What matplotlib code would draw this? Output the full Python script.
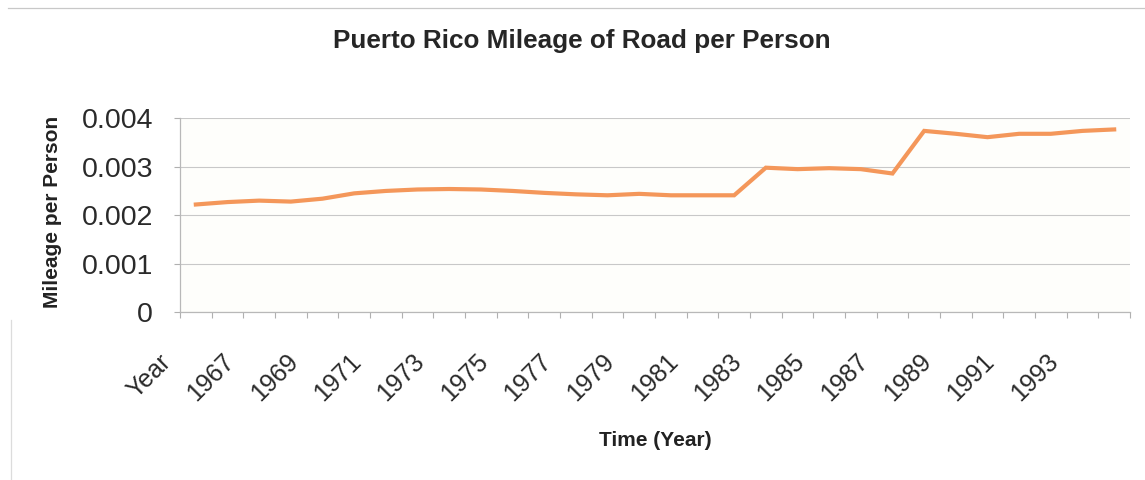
import matplotlib
matplotlib.use("Agg")
import matplotlib.pyplot as plt
from matplotlib.transforms import ScaledTranslation
from matplotlib.lines import Line2D

plt.rcParams['font.family'] = ['Liberation Sans', 'DejaVu Sans']

# Categories as they appear in the worksheet column (header row included)
categories = ["Year"] + [str(y) for y in range(1966, 1995)]

# Road mileage per person, one value per category
mileage_per_person = [
    0.00222, 0.00227, 0.00230, 0.00228, 0.00234, 0.00245, 0.00250, 0.00253,
    0.00254, 0.00253, 0.00250, 0.00246, 0.00243, 0.00241, 0.00244, 0.00241,
    0.00241, 0.00241, 0.00298, 0.00295, 0.00297, 0.00295, 0.00286, 0.00374,
    0.00368, 0.00361, 0.00368, 0.00368, 0.00374, 0.00377,
]

y_ticks = [0, 0.001, 0.002, 0.003, 0.004]
y_tick_labels = ["0", "0.001", "0.002", "0.003", "0.004"]

W, H = 1145, 480
fig = plt.figure(figsize=(W / 100, H / 100), dpi=100)
fig.patch.set_facecolor("white")

ax = fig.add_axes([180 / W, 1 - 312 / H, 950 / W, (312 - 118.3) / H])
ax.set_facecolor("#fefefb")

x = list(range(len(categories)))
ax.plot(x, mileage_per_person, color="#F4975A", lw=3.0, solid_joinstyle="miter",
        zorder=3)

ax.set_xlim(-0.5, len(categories) - 0.5)
ax.set_ylim(0, 0.004)

# gridlines
ax.set_yticks(y_ticks)
ax.set_yticklabels(y_tick_labels, fontsize=20.5, color="#2a2a2a")
ax.yaxis.grid(True, color="#c8c8c8", lw=0.8)
ax.set_axisbelow(True)
ax.tick_params(axis="y", direction="out", length=4.5, width=0.8, color="#b0b0b0",
               pad=15)

# category labels on every other category
label_pos = x[::2]
ax.set_xticks(label_pos)
ax.set_xticklabels([categories[i] for i in label_pos], rotation=45,
                   ha="right", va="top", fontsize=18, color="#2a2a2a")
ax.tick_params(axis="x", which="major", length=0, pad=27)
shift = ScaledTranslation(-20 / 100, 0, fig.dpi_scale_trans)
for lbl in ax.get_xticklabels():
    lbl.set_transform(lbl.get_transform() + shift)

# tick marks between categories
ax.set_xticks([i - 0.5 for i in range(len(categories) + 1)], minor=True)
ax.tick_params(axis="x", which="minor", direction="out", length=4, width=0.8,
               color="#b0b0b0")

for side in ("top", "right"):
    ax.spines[side].set_visible(False)
for side in ("left", "bottom"):
    ax.spines[side].set_color("#b8b8b8")
    ax.spines[side].set_linewidth(0.9)

fig.text(582 / W, 1 - 41 / H, "Puerto Rico Mileage of Road per Person",
         ha="center", va="center", fontsize=18.8, fontweight="bold", color="#262626")
fig.text(52 / W, 1 - 212 / H, "Mileage per Person", rotation=90,
         ha="center", va="center", fontsize=15, fontweight="bold", color="#222222")
fig.text(655 / W, 1 - 441 / H, "Time (Year)", ha="center", va="center",
         fontsize=15, fontweight="bold", color="#222222")

# chart frame edges
fig.add_artist(Line2D([8 / W, 1.0], [1 - 8 / H, 1 - 8 / H],
                      transform=fig.transFigure, color="#c8c8c8", lw=0.9))
fig.add_artist(Line2D([11 / W, 11 / W], [0, 1 - 320 / H],
                      transform=fig.transFigure, color="#dcdcdc", lw=0.9))

fig.savefig("out.png", dpi=100)
